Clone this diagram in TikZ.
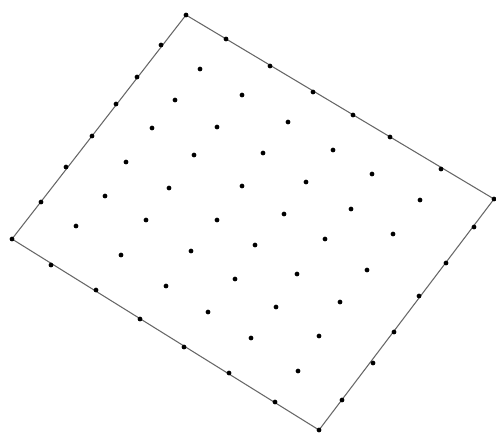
\documentclass[tikz,border=0pt]{standalone}
\tikzset{dot/.style={fill=black}}
\colorlet{rim}{black!60}

\begin{document}
\begin{tikzpicture}[x=0.02cm, y=-0.02cm]
        \useasboundingbox (0,0) rectangle (496,433);

        \coordinate (top) at (186,15);
        \coordinate (right) at (494,199);
        \coordinate (bottom) at (319,430);
        \coordinate (left) at (12,239);
        \draw[rim, line width=0.6pt] (top) -- (right) -- (bottom) -- (left) -- cycle;

        % points on the border
        \foreach \p in {(186,15),(226,39),(270,66),(313,92),(353,115),(390,137),(441,169),(494,199)}
                \fill[dot] \p circle (1.35pt);
        \foreach \p in {(474,227),(446,263),(419,296),(394,332),(373,363),(342,400),(319,430)}
                \fill[dot] \p circle (1.35pt);
        \foreach \p in {(275,402),(229,373),(184,347),(140,319),(96,290),(51,265),(12,239)}
                \fill[dot] \p circle (1.35pt);
        \foreach \p in {(41,202),(66,167),(92,136),(116,104),(137,77),(161,45)}
                \fill[dot] \p circle (1.35pt);

        % points inside
        \foreach \p in {(200,69),(242,95),(288,122),(333,150),(372,174),(420,200),
                        (175,100),(217,127),(263,153),(306,182),(351,209),(393,234),
                        (152,128),(194,155),(242,186),(284,214),(325,239),(367,270),
                        (126,162),(169,188),(217,220),(255,245),(297,274),(340,302),
                        (105,196),(146,220),(191,251),(235,279),(276,307),(319,336),
                        (76,226),(121,255),(166,286),(208,312),(251,338),(298,371)}
                \fill[dot] \p circle (1.35pt);
      \end{tikzpicture}
\end{document}
